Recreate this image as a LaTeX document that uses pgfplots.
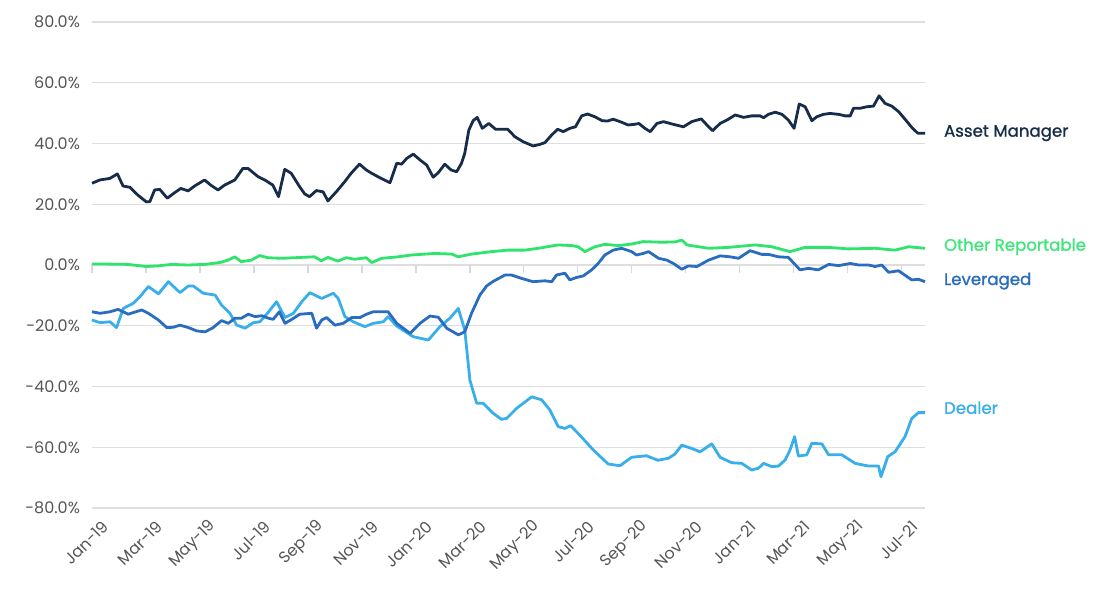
\documentclass[border=0pt]{standalone}
\usepackage{pgfplots}
\pgfplotsset{compat=1.18}
\usepackage{pgfplotstable}
\usepackage{fontspec}
\setmainfont{Poppins}
\newfontfamily\lblfont{Poppins}[FakeBold=1.2]

\definecolor{assetc}{HTML}{162C4A}
\definecolor{otherc}{HTML}{2EE46C}
\definecolor{otherl}{HTML}{3EE67A}
\definecolor{levc}{HTML}{2A6DBF}
\definecolor{dealc}{HTML}{38AEEA}
\definecolor{tickc}{HTML}{555555}

% x = months since Jan-19, y = net position in %
\pgfplotstableread{
x y
0.00 26.9
0.29 28.0
0.66 28.5
0.94 30.0
1.15 26.0
1.40 25.6
1.70 23.0
2.01 20.8
2.14 20.8
2.32 24.7
2.51 24.9
2.79 22.0
3.06 23.8
3.29 25.2
3.56 24.4
3.80 26.0
4.17 28.0
4.40 26.3
4.67 24.7
4.91 26.3
5.29 28.0
5.59 31.8
5.78 31.8
6.15 29.1
6.40 28.0
6.70 26.3
6.91 22.5
7.14 31.5
7.38 30.2
7.69 25.8
7.88 23.4
8.06 22.5
8.31 24.5
8.56 24.1
8.74 21.1
9.05 24.1
9.36 27.4
9.60 30.2
9.91 33.2
10.16 31.3
10.36 30.2
10.67 28.7
11.04 27.1
11.29 33.5
11.47 33.2
11.66 35.1
11.90 36.5
12.15 34.6
12.40 32.9
12.64 28.9
12.83 30.4
13.07 33.2
13.30 31.3
13.51 30.7
13.69 33.5
13.81 36.8
13.96 44.4
14.12 47.5
14.27 48.6
14.46 45.0
14.70 46.6
14.95 44.7
15.17 44.7
15.40 44.7
15.67 42.2
15.97 40.6
16.34 39.2
16.59 39.7
16.78 40.3
17.03 42.8
17.25 44.7
17.46 43.9
17.70 45.0
17.91 45.5
18.14 49.1
18.36 49.7
18.63 48.8
18.90 47.5
19.10 47.4
19.31 48.0
19.62 47.0
19.86 46.1
20.09 46.3
20.26 46.6
20.48 45.0
20.68 43.9
20.93 46.6
21.17 47.2
21.54 46.3
21.91 45.5
22.22 47.2
22.57 48.1
22.78 46.1
22.99 44.2
23.27 46.6
23.52 47.7
23.83 49.4
24.14 48.6
24.44 49.1
24.75 49.1
24.88 48.5
25.06 49.6
25.31 50.3
25.56 49.6
25.80 47.7
26.01 45.0
26.20 53.0
26.42 52.1
26.67 47.5
26.85 48.8
27.10 49.6
27.34 49.9
27.66 49.6
27.90 49.1
28.09 49.1
28.21 51.6
28.46 51.6
28.70 52.1
28.95 52.3
29.16 55.7
29.38 53.2
29.63 52.3
29.88 50.5
30.12 48.0
30.37 45.3
30.59 43.4
30.86 43.4
}\assettab

\pgfplotstableread{
x y
0.00 0.3
0.59 0.3
1.33 0.2
2.01 -0.5
2.44 -0.3
2.94 0.2
3.56 0.0
4.17 0.2
4.73 0.8
5.04 1.6
5.29 2.7
5.53 1.1
5.90 1.6
6.21 3.1
6.52 2.4
7.01 2.2
7.51 2.4
8.25 2.7
8.49 1.4
8.74 2.5
9.11 1.3
9.42 2.4
9.73 1.9
10.16 2.4
10.36 0.8
10.73 2.2
11.34 2.7
11.84 3.3
12.70 3.8
13.32 3.6
13.57 2.7
14.06 3.6
14.80 4.4
15.42 4.9
16.04 4.9
16.53 5.5
17.27 6.6
17.77 6.4
18.01 6.0
18.26 4.4
18.63 6.0
19.00 6.8
19.49 6.4
19.99 6.9
20.42 7.7
21.11 7.5
21.60 7.6
21.85 8.2
22.04 6.6
22.84 5.5
23.58 5.8
24.57 6.6
25.19 6.0
25.86 4.4
26.42 5.8
27.29 5.8
28.03 5.3
29.01 5.5
29.75 4.9
30.25 6.0
30.86 5.5
}\othertab

\pgfplotstableread{
x y
0.00 -15.4
0.30 -15.9
0.67 -15.4
0.97 -14.6
1.34 -16.2
1.84 -14.8
2.09 -15.9
2.46 -18.1
2.77 -20.6
3.01 -20.5
3.26 -19.8
3.57 -20.6
3.88 -21.7
4.19 -22.0
4.49 -20.6
4.80 -18.3
5.05 -19.2
5.30 -17.5
5.54 -17.5
5.79 -16.2
6.04 -17.0
6.29 -16.7
6.53 -17.5
6.71 -17.9
6.94 -15.4
7.15 -19.2
7.40 -17.9
7.70 -16.2
8.14 -15.9
8.32 -20.8
8.51 -18.1
8.69 -17.3
9.00 -19.8
9.31 -19.2
9.62 -17.3
9.93 -17.3
10.17 -16.2
10.42 -15.4
10.73 -15.4
10.97 -15.4
11.29 -19.2
11.78 -22.5
12.15 -19.2
12.52 -16.8
12.83 -17.2
13.14 -20.8
13.57 -23.0
13.81 -22.0
14.06 -15.9
14.37 -9.9
14.62 -6.9
14.86 -5.4
15.30 -3.3
15.54 -3.3
15.91 -4.4
16.34 -5.5
16.78 -5.2
17.03 -5.5
17.21 -3.3
17.52 -2.7
17.70 -4.9
17.95 -4.1
18.20 -3.6
18.51 -1.6
18.75 0.5
19.00 3.3
19.31 4.9
19.62 5.5
19.99 4.4
20.17 3.3
20.42 3.8
20.62 4.4
20.99 2.2
21.30 1.6
21.54 0.5
21.85 -1.4
22.10 -0.3
22.41 -0.5
22.84 1.6
23.27 3.0
23.64 2.7
23.95 2.2
24.38 4.7
24.81 3.5
25.06 3.5
25.43 2.7
25.80 2.5
26.23 -1.6
26.54 -1.1
26.91 -1.6
27.29 0.2
27.66 -0.2
28.09 0.5
28.40 0.0
28.77 0.0
29.01 -0.5
29.26 0.0
29.51 -2.4
29.88 -1.9
30.37 -4.9
30.62 -4.7
30.86 -5.5
}\levtab

\pgfplotstableread{
x y
0.00 -18.1
0.30 -19.0
0.67 -18.7
0.91 -20.6
1.16 -14.3
1.53 -12.6
1.78 -10.4
2.09 -7.1
2.46 -9.5
2.83 -5.5
3.26 -9.1
3.57 -6.9
3.75 -6.9
4.12 -9.3
4.56 -9.9
4.80 -13.2
5.11 -15.9
5.36 -19.8
5.67 -20.8
5.97 -19.0
6.22 -18.7
6.47 -16.2
6.84 -12.1
7.15 -17.3
7.46 -15.9
7.77 -12.1
8.07 -9.1
8.51 -11.0
8.94 -9.3
9.12 -11.0
9.37 -17.0
9.68 -18.7
10.11 -20.3
10.42 -19.2
10.79 -18.7
10.97 -17.0
11.29 -20.1
11.90 -23.6
12.46 -24.7
12.89 -20.3
13.26 -17.5
13.57 -14.3
13.81 -21.4
14.00 -37.9
14.25 -45.5
14.49 -45.5
14.86 -48.8
15.17 -50.8
15.36 -50.5
15.73 -47.2
16.29 -43.4
16.66 -44.4
16.96 -47.7
17.27 -53.2
17.52 -53.8
17.73 -52.9
18.07 -56.0
18.57 -60.9
19.12 -65.5
19.56 -66.1
19.99 -63.3
20.54 -62.8
20.97 -64.3
21.36 -63.6
21.60 -62.2
21.85 -59.3
22.22 -60.4
22.53 -61.5
22.96 -58.9
23.27 -63.3
23.70 -65.1
24.07 -65.3
24.44 -67.5
24.69 -66.9
24.88 -65.3
25.19 -66.4
25.43 -66.2
25.68 -64.2
25.86 -60.9
26.03 -56.5
26.17 -62.9
26.48 -62.5
26.67 -58.7
27.04 -58.9
27.29 -62.5
27.78 -62.5
28.27 -65.3
28.77 -66.2
29.14 -66.2
29.23 -69.7
29.48 -63.1
29.75 -61.5
30.12 -56.5
30.37 -50.5
30.62 -48.6
30.86 -48.6
}\dealtab

\begin{document}
\begin{tikzpicture}
\useasboundingbox (-46pt,-42.5pt) rectangle (510.5pt,254pt);
\begin{axis}[
    at={(0,0)}, anchor=south west,
    scale only axis,
    width=416.5pt, height=243pt,
    xmin=0, xmax=30.86,
    ymin=-80, ymax=80,
    clip=false,
    axis line style={draw=none},
    tick style={draw=none},
    ymajorgrids=true,
    grid style={black!13, line width=0.6pt},
    ytick={-80,-60,-40,-20,0,20,40,60,80},
    yticklabels={-80.0\%,-60.0\%,-40.0\%,-20.0\%,0.0\%,20.0\%,40.0\%,60.0\%,80.0\%},
    xtick={0,2,...,30},
    xticklabels={Jan-19,Mar-19,May-19,Jul-19,Sep-19,Nov-19,Jan-20,Mar-20,May-20,Jul-20,Sep-20,Nov-20,Jan-21,Mar-21,May-21,Jul-21},
    ticklabel style={font=\fontsize{8}{9}\selectfont, text=tickc},
    yticklabel style={xshift=-2.5pt},
    xticklabel style={rotate=45, anchor=east, xshift=2.6pt, yshift=-10.3pt},
    every axis plot/.append style={line width=1.4pt, line join=round, no markers},
]
\pgfplotsinvokeforeach{0,2,...,30}{
  \draw[black!15, line width=0.6pt] (axis cs:#1,0) -- (axis cs:#1,-2.6);
}
\addplot[otherc] table {\othertab};
\addplot[dealc] table {\dealtab};
\addplot[levc] table {\levtab};
\addplot[assetc] table {\assettab};

\node[anchor=west, xshift=6pt, text=assetc, font=\lblfont\fontsize{8.3}{9}\selectfont] at (axis cs:30.86,43.4) {Asset Manager};
\node[anchor=west, xshift=6pt, text=otherl, font=\lblfont\fontsize{8.3}{9}\selectfont] at (axis cs:30.86,6.0) {Other Reportable};
\node[anchor=west, xshift=6pt, text=levc, font=\lblfont\fontsize{8.3}{9}\selectfont] at (axis cs:30.86,-5.3) {Leveraged};
\node[anchor=west, xshift=6pt, text=dealc, font=\lblfont\fontsize{8.3}{9}\selectfont] at (axis cs:30.86,-47.0) {Dealer};
\end{axis}
\end{tikzpicture}
\end{document}
